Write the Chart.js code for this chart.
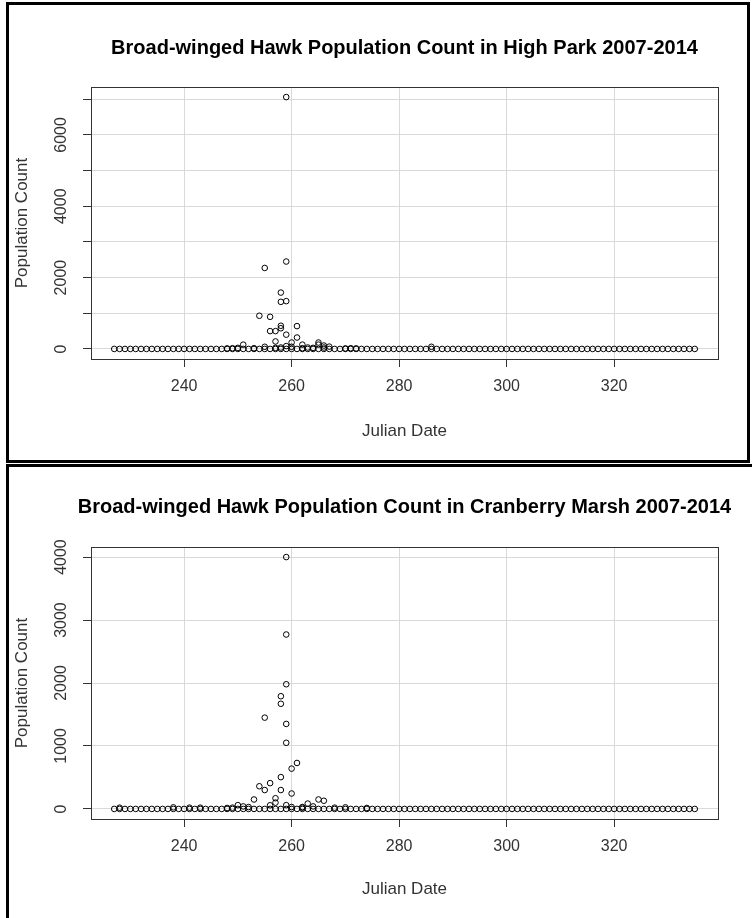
<!DOCTYPE html>
<html>
<head>
<meta charset="utf-8">
<script src="https://cdn.jsdelivr.net/npm/chart.js@4.4.0/dist/chart.umd.min.js"></script>
<style>
  body { margin: 0; background: #fff; width: 752px; height: 918px; overflow: hidden; position: relative; }
  .panel { position: absolute; border: 3px solid #000; box-sizing: border-box; background: #fff; }
  canvas { position: absolute; }
</style>
</head>
<body>
<div class="panel" style="left:6px; top:2px; width:744px; height:461px;"></div>
<div class="panel" style="left:6px; top:464px; width:800px; height:500px;"></div>
<canvas id="highParkCanvas" width="752" height="462" style="left:0; top:0;"></canvas>
<canvas id="cranberryCanvas" width="752" height="451" style="left:0; top:467px;"></canvas>
<script>
// every survey day in the season, each one has at least a count of 0
let seasonDays = [227, 228, 229, 230, 231, 232, 233, 234, 235, 236, 237, 238, 239, 240, 241, 242, 243, 244, 245, 246,
    247, 248, 249, 250, 251, 252, 253, 254, 255, 256, 257, 258, 259, 260, 261, 262, 263, 264, 265, 266,
    267, 268, 269, 270, 271, 272, 273, 274, 275, 276, 277, 278, 279, 280, 281, 282, 283, 284, 285, 286,
    287, 288, 289, 290, 291, 292, 293, 294, 295, 296, 297, 298, 299, 300, 301, 302, 303, 304, 305, 306,
    307, 308, 309, 310, 311, 312, 313, 314, 315, 316, 317, 318, 319, 320, 321, 322, 323, 324, 325, 326,
    327, 328, 329, 330, 331, 332, 333, 334, 335];

// High Park - days with birds counted
let highParkDays = [259, 259, 255, 258, 258, 259, 254, 256, 258, 258, 256, 257, 261, 259, 257, 261, 260, 251, 255, 265,
    265, 266, 267, 262, 260, 259, 258, 257, 253, 249, 250, 248, 264, 266, 270, 271, 272, 286, 263, 262];
let highParkCounts = [7060, 2450, 2270, 1580, 1320, 1340, 930, 900, 650, 580, 500, 500, 640, 400, 210, 320, 180, 120, 60, 180,
    120, 95, 65, 120, 60, 80, 40, 30, 20, 20, 30, 15, 30, 40, 15, 20, 15, 60, 40, 20];

// Cranberry Marsh - days with birds counted
let cranberryDays = [259, 259, 259, 258, 258, 255, 259, 259, 261, 260, 258, 256, 254, 255, 258, 260, 253, 257, 257, 256,
    265, 266, 263, 250, 251, 249, 252, 262, 264, 268, 270, 228, 238, 241, 243, 248, 274, 262, 259, 260];
let cranberryCounts = [4000, 2770, 1980, 1790, 1670, 1450, 1350, 1050, 730, 640, 505, 410, 360, 300, 300, 245, 150, 170, 100, 58,
    150, 130, 85, 60, 40, 20, 30, 30, 40, 20, 25, 20, 25, 20, 20, 15, 15, 20, 60, 30];

let xTicks = [240, 260, 280, 300, 320];
let xLabels = ['240', '260', '280', '300', '320'];
let highParkYTicks = [0, 1000, 2000, 3000, 4000, 5000, 6000, 7000];
let highParkYLabels = ['0', '', '2000', '', '4000', '', '6000', ''];
let cranberryYTicks = [0, 1000, 2000, 3000, 4000];
let cranberryYLabels = ['0', '1000', '2000', '3000', '4000'];

const FONT = "'Liberation Sans', Arial, sans-serif";

function makePoints(days, counts) {
    let pts = seasonDays.map(d => ({x: d, y: 0}));
    days.forEach((d, i) => pts.push({x: d, y: counts[i]}));
    return pts;
}

// R style: title centred over the plot, vertical y tick labels, box round the plot
const rStylePlugin = {
    id: 'rStyle',
    afterDraw(chart, args, opts) {
        let ctx = chart.ctx;
        let yScale = chart.scales.y;
        let area = chart.chartArea;
        ctx.save();
        ctx.strokeStyle = '#333';
        ctx.lineWidth = 1;
        ctx.strokeRect(Math.round(area.left) + 0.5, Math.round(area.top) + 0.5,
            Math.round(area.right - area.left), Math.round(area.bottom - area.top));

        ctx.fillStyle = '#000';
        ctx.font = 'bold 20px ' + FONT;
        ctx.textAlign = 'center';
        ctx.textBaseline = 'middle';
        ctx.fillText(opts.title, (area.left + area.right) / 2, opts.titleY);

        ctx.fillStyle = '#333';
        ctx.font = '16px ' + FONT;
        opts.ticks.forEach((v, i) => {
            let y = yScale.getPixelForValue(v);
            ctx.save();
            ctx.translate(opts.labelX, y);
            ctx.rotate(-Math.PI / 2);
            ctx.fillText(opts.labels[i], 0, 0);
            ctx.restore();
        });
        ctx.restore();
    }
};

function drawPanel(canvasId, title, points, yMin, yMax, yTicks, yLabels, geom) {
    let ctx = document.getElementById(canvasId).getContext('2d');
    return new Chart(ctx, {
        type: 'scatter',
        data: {
            datasets: [{
                data: points,
                pointStyle: 'circle',
                pointRadius: 2.8,
                borderColor: '#000',
                borderWidth: 1,
                backgroundColor: 'rgba(0,0,0,0)'
            }]
        },
        plugins: [rStylePlugin],
        options: {
            responsive: false,
            animation: false,
            layout: {padding: {left: 0, right: geom.right, top: geom.top, bottom: 0}},
            plugins: {
                legend: {display: false},
                tooltip: {enabled: false},
                title: {display: false},
                rStyle: {title: title, titleY: geom.titleY, ticks: yTicks, labels: yLabels, labelX: 62}
            },
            scales: {
                x: {
                    type: 'linear',
                    min: 222.68,
                    max: 339.32,
                    afterBuildTicks: s => { s.ticks = xTicks.map(v => ({value: v})); },
                    afterFit: s => { s.height = geom.xHeight; },
                    ticks: {
                        color: '#333',
                        font: {family: FONT, size: 16},
                        padding: 10,
                        maxRotation: 0,
                        callback: (v) => xLabels[xTicks.indexOf(v)]
                    },
                    grid: {color: '#d9d9d9', tickColor: '#333', tickLength: 8, lineWidth: 1},
                    border: {display: false},
                    title: {
                        display: true,
                        text: 'Julian Date',
                        color: '#333',
                        font: {family: FONT, size: 17},
                        padding: {top: 0, bottom: geom.xTitleBottom}
                    }
                },
                y: {
                    type: 'linear',
                    min: yMin,
                    max: yMax,
                    afterBuildTicks: s => { s.ticks = yTicks.map(v => ({value: v})); },
                    afterFit: s => { s.width = 91; },
                    ticks: {display: false},
                    grid: {color: '#d9d9d9', tickColor: '#333', tickLength: 8, lineWidth: 1},
                    border: {display: false},
                    title: {
                        display: true,
                        text: 'Population Count',
                        color: '#333',
                        font: {family: FONT, size: 17},
                        padding: {top: 12, bottom: 0}
                    }
                }
            }
        }
    });
}

drawPanel('highParkCanvas', 'Broad-winged Hawk Population Count in High Park 2007-2014',
    makePoints(highParkDays, highParkCounts), -282, 7342, highParkYTicks, highParkYLabels,
    {right: 34, top: 87, titleY: 48, xHeight: 103, xTitleBottom: 20.8});

drawPanel('cranberryCanvas', 'Broad-winged Hawk Population Count in Cranberry Marsh 2007-2014',
    makePoints(cranberryDays, cranberryCounts), -160, 4160, cranberryYTicks, cranberryYLabels,
    {right: 34, top: 80, titleY: 40, xHeight: 99, xTitleBottom: 18.8});
</script>
</body>
</html>
